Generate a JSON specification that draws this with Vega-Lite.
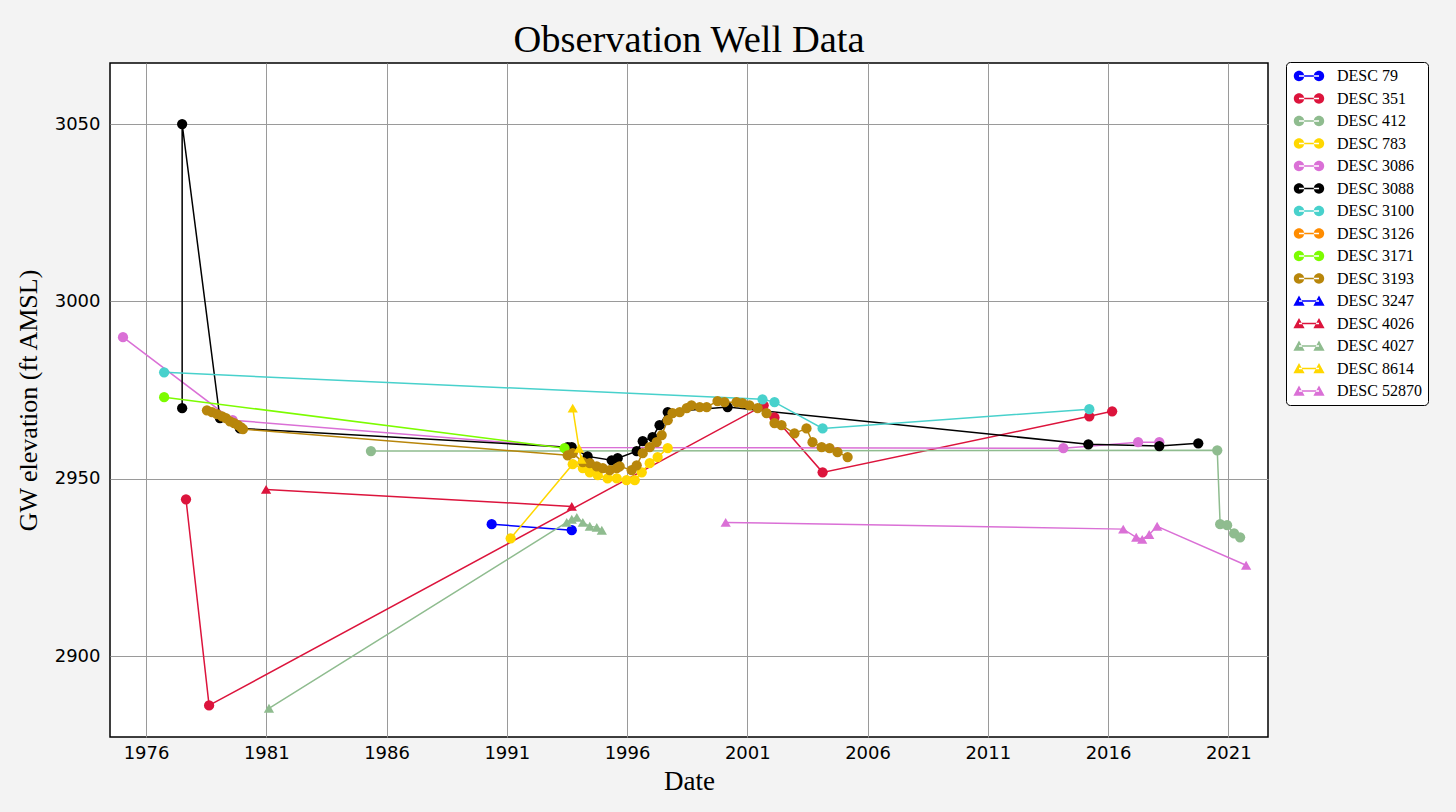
{
  "$schema": "https://vega.github.io/schema/vega-lite/v6.json",
  "width": 1158,
  "height": 674,
  "autosize": {"type": "none"},
  "padding": {"left": 110, "top": 63, "right": 188, "bottom": 75},
  "background": "#f3f3f3",
  "title": {"text": "Observation Well Data", "font": "Liberation Serif", "fontSize": 38.5, "fontWeight": "normal", "color": "#000000", "anchor": "middle", "baseline": "alphabetic", "offset": 11, "dy": 40, "frame": "group"},
  "config": {
    "view": {"fill": "white", "stroke": "black", "strokeWidth": 1.5},
    "axis": {"labelFont": "DejaVu Sans", "labelFontSize": 18, "labelColor": "#000000", "titleFont": "Liberation Serif", "titleFontSize": 27, "titleFontWeight": "normal", "titleColor": "#000000", "grid": true, "gridColor": "#9a9a9a", "gridWidth": 1, "domain": false, "ticks": false}
  },
  "data": {"values": [
    {"well": "DESC 79", "t": 1990.37, "v": 2937.2},
    {"well": "DESC 79", "t": 1993.70, "v": 2935.5},
    {"well": "DESC 351", "t": 1977.66, "v": 2944.2},
    {"well": "DESC 351", "t": 1978.62, "v": 2886.1},
    {"well": "DESC 351", "t": 2001.68, "v": 2970.7},
    {"well": "DESC 351", "t": 2002.13, "v": 2967.3},
    {"well": "DESC 351", "t": 2004.13, "v": 2951.8},
    {"well": "DESC 351", "t": 2015.22, "v": 2967.6},
    {"well": "DESC 351", "t": 2016.17, "v": 2969.0},
    {"well": "DESC 412", "t": 1985.35, "v": 2957.8},
    {"well": "DESC 412", "t": 2020.54, "v": 2958.0},
    {"well": "DESC 412", "t": 2020.66, "v": 2937.2},
    {"well": "DESC 412", "t": 2020.95, "v": 2936.9},
    {"well": "DESC 412", "t": 2021.24, "v": 2934.6},
    {"well": "DESC 412", "t": 2021.49, "v": 2933.5},
    {"well": "DESC 783", "t": 1991.16, "v": 2933.2},
    {"well": "DESC 783", "t": 1993.74, "v": 2954.1},
    {"well": "DESC 783", "t": 1994.16, "v": 2953.0},
    {"well": "DESC 783", "t": 1994.45, "v": 2951.8},
    {"well": "DESC 783", "t": 1994.78, "v": 2951.0},
    {"well": "DESC 783", "t": 1995.19, "v": 2950.1},
    {"well": "DESC 783", "t": 1995.57, "v": 2950.1},
    {"well": "DESC 783", "t": 1995.98, "v": 2949.6},
    {"well": "DESC 783", "t": 1996.32, "v": 2949.6},
    {"well": "DESC 783", "t": 1996.61, "v": 2951.8},
    {"well": "DESC 783", "t": 1996.94, "v": 2954.4},
    {"well": "DESC 783", "t": 1997.27, "v": 2956.1},
    {"well": "DESC 783", "t": 1997.69, "v": 2958.6},
    {"well": "DESC 3086", "t": 1975.04, "v": 2989.9},
    {"well": "DESC 3086", "t": 1979.6, "v": 2966.5},
    {"well": "DESC 3086", "t": 1993.6, "v": 2958.8},
    {"well": "DESC 3086", "t": 2014.14, "v": 2958.6},
    {"well": "DESC 3086", "t": 2017.25, "v": 2960.3},
    {"well": "DESC 3086", "t": 2018.13, "v": 2960.3},
    {"well": "DESC 3088", "t": 1977.50, "v": 2969.9},
    {"well": "DESC 3088", "t": 1977.50, "v": 3050.0},
    {"well": "DESC 3088", "t": 1979.07, "v": 2967.1},
    {"well": "DESC 3088", "t": 1979.90, "v": 2964.2},
    {"well": "DESC 3088", "t": 1993.53, "v": 2958.9},
    {"well": "DESC 3088", "t": 1993.70, "v": 2958.9},
    {"well": "DESC 3088", "t": 1994.36, "v": 2956.3},
    {"well": "DESC 3088", "t": 1995.36, "v": 2955.2},
    {"well": "DESC 3088", "t": 1995.61, "v": 2955.8},
    {"well": "DESC 3088", "t": 1996.40, "v": 2957.8},
    {"well": "DESC 3088", "t": 1996.65, "v": 2960.6},
    {"well": "DESC 3088", "t": 1997.06, "v": 2961.7},
    {"well": "DESC 3088", "t": 1997.35, "v": 2965.1},
    {"well": "DESC 3088", "t": 1997.69, "v": 2968.8},
    {"well": "DESC 3088", "t": 2000.18, "v": 2970.2},
    {"well": "DESC 3088", "t": 2015.18, "v": 2959.7},
    {"well": "DESC 3088", "t": 2018.13, "v": 2959.2},
    {"well": "DESC 3088", "t": 2019.75, "v": 2960.0},
    {"well": "DESC 3100", "t": 1976.75, "v": 2980.0},
    {"well": "DESC 3100", "t": 2001.63, "v": 2972.4},
    {"well": "DESC 3100", "t": 2002.13, "v": 2971.6},
    {"well": "DESC 3100", "t": 2004.13, "v": 2964.2},
    {"well": "DESC 3100", "t": 2015.22, "v": 2969.6},
    {"well": "DESC 3171", "t": 1976.75, "v": 2973.0},
    {"well": "DESC 3171", "t": 1993.4, "v": 2958.6},
    {"well": "DESC 3193", "t": 1978.53, "v": 2969.3},
    {"well": "DESC 3193", "t": 1978.74, "v": 2968.8},
    {"well": "DESC 3193", "t": 1978.95, "v": 2968.2},
    {"well": "DESC 3193", "t": 1979.16, "v": 2967.6},
    {"well": "DESC 3193", "t": 1979.32, "v": 2967.1},
    {"well": "DESC 3193", "t": 1979.49, "v": 2966.2},
    {"well": "DESC 3193", "t": 1979.66, "v": 2965.7},
    {"well": "DESC 3193", "t": 1979.82, "v": 2965.1},
    {"well": "DESC 3193", "t": 1979.95, "v": 2964.5},
    {"well": "DESC 3193", "t": 1980.03, "v": 2964.0},
    {"well": "DESC 3193", "t": 1993.53, "v": 2956.6},
    {"well": "DESC 3193", "t": 1993.74, "v": 2957.2},
    {"well": "DESC 3193", "t": 1994.16, "v": 2954.7},
    {"well": "DESC 3193", "t": 1994.45, "v": 2954.4},
    {"well": "DESC 3193", "t": 1994.74, "v": 2953.5},
    {"well": "DESC 3193", "t": 1994.99, "v": 2953.0},
    {"well": "DESC 3193", "t": 1995.28, "v": 2952.4},
    {"well": "DESC 3193", "t": 1995.57, "v": 2953.0},
    {"well": "DESC 3193", "t": 1995.69, "v": 2953.5},
    {"well": "DESC 3193", "t": 1996.19, "v": 2952.4},
    {"well": "DESC 3193", "t": 1996.40, "v": 2953.8},
    {"well": "DESC 3193", "t": 1996.65, "v": 2957.2},
    {"well": "DESC 3193", "t": 1996.94, "v": 2958.9},
    {"well": "DESC 3193", "t": 1997.23, "v": 2960.3},
    {"well": "DESC 3193", "t": 1997.44, "v": 2962.3},
    {"well": "DESC 3193", "t": 1997.69, "v": 2966.5},
    {"well": "DESC 3193", "t": 1997.89, "v": 2968.5},
    {"well": "DESC 3193", "t": 1998.19, "v": 2968.8},
    {"well": "DESC 3193", "t": 1998.48, "v": 2969.9},
    {"well": "DESC 3193", "t": 1998.68, "v": 2970.7},
    {"well": "DESC 3193", "t": 1999.02, "v": 2970.2},
    {"well": "DESC 3193", "t": 1999.31, "v": 2970.2},
    {"well": "DESC 3193", "t": 1999.76, "v": 2971.9},
    {"well": "DESC 3193", "t": 2000.05, "v": 2971.6},
    {"well": "DESC 3193", "t": 2000.55, "v": 2971.6},
    {"well": "DESC 3193", "t": 2000.80, "v": 2971.3},
    {"well": "DESC 3193", "t": 2001.09, "v": 2970.7},
    {"well": "DESC 3193", "t": 2001.43, "v": 2969.9},
    {"well": "DESC 3193", "t": 2001.80, "v": 2968.5},
    {"well": "DESC 3193", "t": 2002.13, "v": 2965.7},
    {"well": "DESC 3193", "t": 2002.42, "v": 2965.1},
    {"well": "DESC 3193", "t": 2002.96, "v": 2962.8},
    {"well": "DESC 3193", "t": 2003.46, "v": 2964.2},
    {"well": "DESC 3193", "t": 2003.71, "v": 2960.3},
    {"well": "DESC 3193", "t": 2004.09, "v": 2958.9},
    {"well": "DESC 3193", "t": 2004.42, "v": 2958.6},
    {"well": "DESC 3193", "t": 2004.75, "v": 2957.5},
    {"well": "DESC 3193", "t": 2005.17, "v": 2956.1},
    {"well": "DESC 4026", "t": 1980.99, "v": 2947.0},
    {"well": "DESC 4026", "t": 1993.70, "v": 2942.2},
    {"well": "DESC 4027", "t": 1981.11, "v": 2885.3},
    {"well": "DESC 4027", "t": 1993.49, "v": 2937.7},
    {"well": "DESC 4027", "t": 1993.70, "v": 2938.6},
    {"well": "DESC 4027", "t": 1993.91, "v": 2939.1},
    {"well": "DESC 4027", "t": 1994.16, "v": 2937.7},
    {"well": "DESC 4027", "t": 1994.45, "v": 2936.6},
    {"well": "DESC 4027", "t": 1994.74, "v": 2936.3},
    {"well": "DESC 4027", "t": 1994.95, "v": 2935.5},
    {"well": "DESC 8614", "t": 1993.74, "v": 2969.9},
    {"well": "DESC 8614", "t": 1994.0, "v": 2958.6},
    {"well": "DESC 8614", "t": 1994.1, "v": 2955.5},
    {"well": "DESC 52870", "t": 2000.10, "v": 2937.7},
    {"well": "DESC 52870", "t": 2016.63, "v": 2935.8},
    {"well": "DESC 52870", "t": 2017.17, "v": 2933.5},
    {"well": "DESC 52870", "t": 2017.42, "v": 2932.9},
    {"well": "DESC 52870", "t": 2017.71, "v": 2934.3},
    {"well": "DESC 52870", "t": 2018.04, "v": 2936.6},
    {"well": "DESC 52870", "t": 2021.74, "v": 2925.6}
  ]},
  "encoding": {
    "x": {"field": "t", "type": "quantitative", "scale": {"domain": [1974.5, 2022.65], "nice": false, "zero": false},
      "axis": {"title": "Date", "values": [1976, 1981, 1986, 1991, 1996, 2001, 2006, 2011, 2016, 2021], "format": "d", "labelPadding": 7, "titlePadding": 6}},
    "y": {"field": "v", "type": "quantitative", "scale": {"domain": [2877.2, 3067.2], "nice": false, "zero": false},
      "axis": {"title": "GW elevation (ft AMSL)", "titleFontSize": 26, "values": [2900, 2950, 3000, 3050], "format": "d", "labelPadding": 10, "titlePadding": 13}}
  },
  "layer": [
    {
      "mark": {"type": "line", "strokeWidth": 1.5, "clip": true},
      "encoding": {
        "color": {"field": "well", "type": "nominal", "legend": null,
          "scale": {"domain": ["DESC 79", "DESC 351", "DESC 412", "DESC 783", "DESC 3086", "DESC 3088", "DESC 3100", "DESC 3126", "DESC 3171", "DESC 3193", "DESC 3247", "DESC 4026", "DESC 4027", "DESC 8614", "DESC 52870"],
            "range": ["#0000ff", "#dc143c", "#8fbc8f", "#ffd700", "#da70d6", "#000000", "#48d1cc", "#ff8c00", "#7cfc00", "#b8860b", "#0000ff", "#dc143c", "#8fbc8f", "#ffd700", "#da70d6"]}},
        "order": {"value": null}
      }
    },
    {
      "mark": {"type": "point", "filled": true, "opacity": 1, "size": 105, "clip": true},
      "encoding": {
        "color": {"field": "well", "type": "nominal", "legend": null,
          "scale": {"domain": ["DESC 79", "DESC 351", "DESC 412", "DESC 783", "DESC 3086", "DESC 3088", "DESC 3100", "DESC 3126", "DESC 3171", "DESC 3193", "DESC 3247", "DESC 4026", "DESC 4027", "DESC 8614", "DESC 52870"],
            "range": ["#0000ff", "#dc143c", "#8fbc8f", "#ffd700", "#da70d6", "#000000", "#48d1cc", "#ff8c00", "#7cfc00", "#b8860b", "#0000ff", "#dc143c", "#8fbc8f", "#ffd700", "#da70d6"]}},
        "shape": {"field": "well", "type": "nominal", "legend": null,
          "scale": {"domain": ["DESC 79", "DESC 351", "DESC 412", "DESC 783", "DESC 3086", "DESC 3088", "DESC 3100", "DESC 3126", "DESC 3171", "DESC 3193", "DESC 3247", "DESC 4026", "DESC 4027", "DESC 8614", "DESC 52870"],
            "range": ["circle", "circle", "circle", "circle", "circle", "circle", "circle", "circle", "circle", "circle", "triangle-up", "triangle-up", "triangle-up", "triangle-up", "triangle-up"]}}
      }
    },
    {
      "transform": [{"filter": "false"}],
      "mark": {"type": "point", "filled": true, "opacity": 1, "size": 256},
      "encoding": {
        "color": {"field": "well", "type": "nominal",
          "scale": {"domain": ["DESC 79", "DESC 351", "DESC 412", "DESC 783", "DESC 3086", "DESC 3088", "DESC 3100", "DESC 3126", "DESC 3171", "DESC 3193", "DESC 3247", "DESC 4026", "DESC 4027", "DESC 8614", "DESC 52870"],
            "range": ["#0000ff", "#dc143c", "#8fbc8f", "#ffd700", "#da70d6", "#000000", "#48d1cc", "#ff8c00", "#7cfc00", "#b8860b", "#0000ff", "#dc143c", "#8fbc8f", "#ffd700", "#da70d6"]},
          "legend": {"orient": "none", "legendX": 1176, "legendY": -1, "title": null, "labelFont": "Liberation Serif", "labelFontSize": 16, "labelColor": "#000000", "strokeColor": "#000000", "fillColor": "#ffffff", "padding": 6, "cornerRadius": 4, "symbolSize": 256, "symbolOffset": 9, "labelOffset": 20, "rowPadding": 6.5, "symbolOpacity": 1, "symbolStrokeWidth": 0}},
        "shape": {"field": "well", "type": "nominal",
          "scale": {"domain": ["DESC 79", "DESC 351", "DESC 412", "DESC 783", "DESC 3086", "DESC 3088", "DESC 3100", "DESC 3126", "DESC 3171", "DESC 3193", "DESC 3247", "DESC 4026", "DESC 4027", "DESC 8614", "DESC 52870"],
            "range": [
              "M-1.9,0A0.65,0.65 0 1,0 -0.6,0A0.65,0.65 0 1,0 -1.9,0ZM0.6,0A0.65,0.65 0 1,0 1.9,0A0.65,0.65 0 1,0 0.6,0ZM-1.25,-0.1L1.25,-0.1L1.25,0.1L-1.25,0.1Z",
              "M-1.9,0A0.65,0.65 0 1,0 -0.6,0A0.65,0.65 0 1,0 -1.9,0ZM0.6,0A0.65,0.65 0 1,0 1.9,0A0.65,0.65 0 1,0 0.6,0ZM-1.25,-0.1L1.25,-0.1L1.25,0.1L-1.25,0.1Z",
              "M-1.9,0A0.65,0.65 0 1,0 -0.6,0A0.65,0.65 0 1,0 -1.9,0ZM0.6,0A0.65,0.65 0 1,0 1.9,0A0.65,0.65 0 1,0 0.6,0ZM-1.25,-0.1L1.25,-0.1L1.25,0.1L-1.25,0.1Z",
              "M-1.9,0A0.65,0.65 0 1,0 -0.6,0A0.65,0.65 0 1,0 -1.9,0ZM0.6,0A0.65,0.65 0 1,0 1.9,0A0.65,0.65 0 1,0 0.6,0ZM-1.25,-0.1L1.25,-0.1L1.25,0.1L-1.25,0.1Z",
              "M-1.9,0A0.65,0.65 0 1,0 -0.6,0A0.65,0.65 0 1,0 -1.9,0ZM0.6,0A0.65,0.65 0 1,0 1.9,0A0.65,0.65 0 1,0 0.6,0ZM-1.25,-0.1L1.25,-0.1L1.25,0.1L-1.25,0.1Z",
              "M-1.9,0A0.65,0.65 0 1,0 -0.6,0A0.65,0.65 0 1,0 -1.9,0ZM0.6,0A0.65,0.65 0 1,0 1.9,0A0.65,0.65 0 1,0 0.6,0ZM-1.25,-0.1L1.25,-0.1L1.25,0.1L-1.25,0.1Z",
              "M-1.9,0A0.65,0.65 0 1,0 -0.6,0A0.65,0.65 0 1,0 -1.9,0ZM0.6,0A0.65,0.65 0 1,0 1.9,0A0.65,0.65 0 1,0 0.6,0ZM-1.25,-0.1L1.25,-0.1L1.25,0.1L-1.25,0.1Z",
              "M-1.9,0A0.65,0.65 0 1,0 -0.6,0A0.65,0.65 0 1,0 -1.9,0ZM0.6,0A0.65,0.65 0 1,0 1.9,0A0.65,0.65 0 1,0 0.6,0ZM-1.25,-0.1L1.25,-0.1L1.25,0.1L-1.25,0.1Z",
              "M-1.9,0A0.65,0.65 0 1,0 -0.6,0A0.65,0.65 0 1,0 -1.9,0ZM0.6,0A0.65,0.65 0 1,0 1.9,0A0.65,0.65 0 1,0 0.6,0ZM-1.25,-0.1L1.25,-0.1L1.25,0.1L-1.25,0.1Z",
              "M-1.9,0A0.65,0.65 0 1,0 -0.6,0A0.65,0.65 0 1,0 -1.9,0ZM0.6,0A0.65,0.65 0 1,0 1.9,0A0.65,0.65 0 1,0 0.6,0ZM-1.25,-0.1L1.25,-0.1L1.25,0.1L-1.25,0.1Z",
              "M-1.95,0.58L-0.55,0.58L-1.25,-0.7ZM0.55,0.58L1.95,0.58L1.25,-0.7ZM-1.25,-0.1L1.25,-0.1L1.25,0.1L-1.25,0.1Z",
              "M-1.95,0.58L-0.55,0.58L-1.25,-0.7ZM0.55,0.58L1.95,0.58L1.25,-0.7ZM-1.25,-0.1L1.25,-0.1L1.25,0.1L-1.25,0.1Z",
              "M-1.95,0.58L-0.55,0.58L-1.25,-0.7ZM0.55,0.58L1.95,0.58L1.25,-0.7ZM-1.25,-0.1L1.25,-0.1L1.25,0.1L-1.25,0.1Z",
              "M-1.95,0.58L-0.55,0.58L-1.25,-0.7ZM0.55,0.58L1.95,0.58L1.25,-0.7ZM-1.25,-0.1L1.25,-0.1L1.25,0.1L-1.25,0.1Z",
              "M-1.95,0.58L-0.55,0.58L-1.25,-0.7ZM0.55,0.58L1.95,0.58L1.25,-0.7ZM-1.25,-0.1L1.25,-0.1L1.25,0.1L-1.25,0.1Z"
            ]}}
      }
    }
  ],
  "resolve": {"scale": {"color": "independent", "shape": "independent"}}
}
